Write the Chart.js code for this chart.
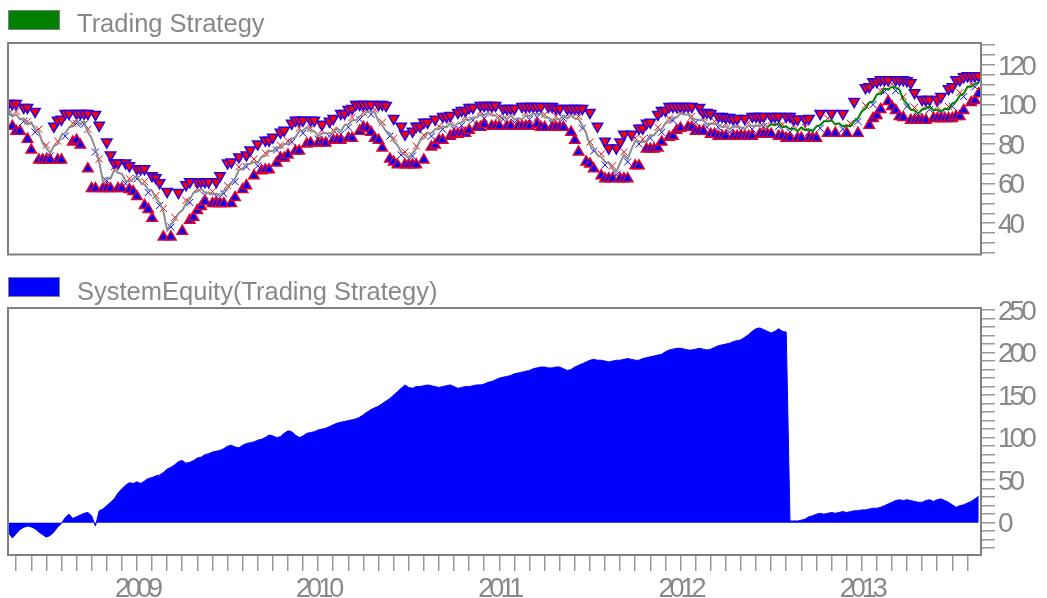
<!DOCTYPE html>
<html>
<head>
<meta charset="utf-8">
<script src="https://cdn.jsdelivr.net/npm/chart.js@4.4.0/dist/chart.umd.min.js"></script>
<style>
  html, body { margin: 0; padding: 0; background: #fff; }
  #wrap { position: relative; width: 1047px; height: 598px; overflow: hidden; }
  .box { position: absolute; left: 0; width: 1047px; }
</style>
</head>
<body>
<div id="wrap">
  <div class="box" style="top:0;height:262px"><canvas id="priceChart"></canvas></div>
  <div class="box" style="top:268px;height:330px"><canvas id="equityChart"></canvas></div>
</div>
<script>
// months counted from Jan 2008 (0 = Jan 2008), one point per week
const firstMonth = 3.5;
const weekStep = 0.25;
const axisFrom = 3.46;
const axisTo = 67.9;
const greenFromWeek = 201;

const price = [
  97, 94, 95, 92.5, 93, 90, 91, 87.5, 86, 80.5,
  78, 75.5, 79, 80, 84.5, 85.5, 88.5, 89, 92, 90,
  91.5, 86, 83, 77.5, 71, 61, 63, 62.5, 67, 65.5,
  65, 61.5, 61, 62.5, 64, 60.5, 59.5, 57, 56.5, 52.5,
  50.5, 46, 36.5, 39.5, 41.5, 45, 46.5, 50, 52, 55.5,
  56, 57.5, 55.5, 55.5, 54.5, 55, 53.5, 56.5, 57.5, 60.5,
  62.5, 67, 67.5, 70, 70, 71, 70.5, 73.5, 74, 76.5,
  76.5, 78.5, 78, 80, 80, 82.5, 83.5, 86.5, 87, 88.5,
  86.5, 86.5, 84, 85.5, 85.5, 85.5, 85.5, 88, 86.5, 89.5,
  90, 92, 92, 94, 94.5, 96.5, 96.5, 96, 91.5, 89.5,
  86.5, 85.5, 81.5, 79.5, 76, 74.5, 73, 75.5, 77.5, 82,
  83, 85.5, 85.5, 87.5, 87.5, 89, 88.5, 90.5, 89, 90.5,
  91, 92.5, 92, 93.5, 93.5, 95, 94.5, 96, 94.5, 94.5,
  92.5, 94, 92.5, 94.5, 92.5, 93, 92.5, 94.5, 94, 95.5,
  95, 95.5, 93.5, 93.5, 92, 92.5, 92.5, 94.5, 93, 94.5,
  93, 92.5, 89.5, 85.5, 79.5, 78, 74.5, 73.5, 71, 70.5,
  67.5, 66, 70.5, 74.5, 72.5, 77.5, 81.5, 81.5, 81, 81.5,
  84.5, 84.5, 87, 87.5, 90.5, 91.5, 93.5, 93.5, 95.5, 95,
  95, 92.5, 92.5, 92, 92, 90, 90.5, 90, 90, 88.5,
  89, 87.5, 89, 88.5, 88.5, 87.5, 89.5, 89, 89.5, 89,
  90.5, 88.5, 90, 89.5, 90.5, 88.5, 89, 87.5, 88, 86.5,
  88.5, 87, 87.5, 86.5, 89, 89.5, 91.5, 91.5, 92, 90,
  90.5, 89, 89.5, 89, 91.5, 93, 96.5, 98, 101, 101.5,
  105, 105.5, 108, 107.5, 109, 108.5, 107.5, 102.5, 100.5, 97.5,
  97, 95.5, 97.5, 98, 99, 97, 97.5, 96.5, 98, 97.5,
  100.5, 101.5, 104.5, 105.5, 109, 109, 110.5, 111
];

const equity = [
  -12, -18, -13, -8, -5.5, -4, -5, -7, -11, -14,
  -17, -15, -11, -5, -1, 6, 10, 5, 7, 9,
  11, 12, 8, -4, 14, 16, 20, 24, 28, 35,
  40, 44, 47, 46, 48, 46, 49, 52, 53, 55,
  56, 59, 63, 65, 68, 72, 73, 70, 71, 73,
  76, 77, 80, 81, 83, 84, 85, 87, 90, 91,
  89, 88, 91, 93, 94, 95, 97, 98, 100, 103,
  102, 100, 101, 105, 108, 107, 103, 100, 102, 105,
  106, 107, 109, 110, 111, 113, 115, 117, 118, 119,
  120, 121, 122, 124, 127, 130, 133, 135, 137, 140,
  143, 146, 150, 154, 158, 162, 159, 158, 160, 160,
  161, 162, 161, 160, 159, 160, 161, 162, 160, 158,
  159, 160, 160, 161, 162, 162, 163, 165, 166, 168,
  170, 171, 172, 173, 175, 176, 177, 178, 179, 181,
  182, 183, 183, 182, 182, 183, 183, 181, 179, 180,
  183, 185, 187, 189, 191, 192, 191, 191, 190, 189,
  190, 191, 191, 192, 193, 192, 191, 191, 193, 194,
  195, 196, 197, 198, 201, 203, 204, 205, 205, 204,
  203, 203, 204, 205, 204, 203, 204, 206, 208, 209,
  210, 211, 213, 214, 215, 218, 221, 225, 228, 229,
  227, 225, 223, 225, 228, 225, 224, 2, 2, 2,
  3, 4, 7, 8, 10, 11, 10, 11, 12, 11,
  12, 13, 12, 13, 14, 14, 15, 15, 16, 17,
  17, 18, 20, 22, 24, 26, 27, 26, 27, 26,
  25, 24, 24, 26, 27, 25, 27, 28, 26, 24,
  21, 18, 20, 21, 23, 25, 28, 31
];

// one flag per week: 1 = signal that week
const sellWeeks = [
  '1110110100', '0011111011', '1101101111', '0110111011', '1010010110',
  '1111011011', '0101101011', '1011011110', '1101011011', '1111111011',
  '1010110111', '1101011101', '1111011111', '0111101111', '1101111011',
  '1110101011', '0111010111', '1011111111', '1101111011', '1111010111',
  '1011101111', '0110010010', '0100100111', '1111011111', '1011101101',
  '11111111'
].join('');
const buyWeeks = [
  '0111011011', '1101100111', '0111011101', '1011101110', '0101001011',
  '1110111101', '1011010111', '0111101101', '1011101110', '1101111111',
  '0111011110', '1011110111', '1110111011', '1011011110', '1110111101',
  '1101110111', '1011101101', '1111011110', '1111101111', '1011111101',
  '1110111101', '1011100101', '0010010011', '1101111101', '1111011111',
  '11110111'
].join('');
const redExitWeeks = [
  '0010010010', '1001000100', '0100100010', '0010001001', '0100100100',
  '1000100010', '0100010010', '0010100100', '1001001000', '0100100101',
  '0010010010', '1000100100', '0100010010', '1001000100', '0010010001',
  '0100100100', '1001001010', '0010010010', '0100100100', '1001001001',
  '0010010010', '0100000100', '0001000100', '0100100100', '1001001001',
  '00100100'
].join('');
const blueExitWeeks = [
  '1000100100', '0100010010', '1001001000', '0100100100', '1001000010',
  '0010010100', '1001001000', '0100010010', '0010010010', '1001001000',
  '0100100100', '0010010010', '1001001000', '0100100010', '1000100100',
  '0010010010', '0100100100', '1001001000', '0010010010', '0100100100',
  '1000100100', '0010010000', '0100010001', '0010010010', '0100100100',
  '10010010'
].join('');

const weekX = i => firstMonth + i * weekStep;

function hasFont(name) {
  const c = document.createElement('canvas').getContext('2d');
  c.font = '40px monospace';
  const a = c.measureText('2009 120 abc').width;
  c.font = '40px "' + name + '", monospace';
  return c.measureText('2009 120 abc').width !== a;
}
const narrow = hasFont('Liberation Sans Narrow');
const tickFamily = narrow ? '"Liberation Sans Narrow"' : '"Liberation Sans"';
const tickSpacing = narrow ? '0px' : '-4px';
const textGray = '#888888';
const frameGray = '#808080';

// triangles sit just outside the recent high / low of the price line
function triangles(flags, side, gap) {
  const pts = [];
  for (let i = 0; i < price.length; i++) {
    if (flags[i] !== '1') continue;
    const win = price.slice(Math.max(0, i - 3), i + 4);
    const ref = side > 0 ? Math.max(...win) : Math.min(...win);
    pts.push({ x: weekX(i), y: ref + side * gap });
  }
  return pts;
}
function crosses(flags, shift) {
  const pts = [];
  for (let i = 0; i < price.length; i++) {
    if (flags[i] === '1') pts.push({ x: weekX(i), y: price[i] + shift });
  }
  return pts;
}

const framePlugin = {
  id: 'frame',
  beforeDraw(chart) { chart.ctx.letterSpacing = tickSpacing; },
  afterDatasetsDraw(chart) {
    const { ctx, chartArea: a } = chart;
    ctx.save();
    ctx.strokeStyle = frameGray;
    ctx.lineWidth = 2;
    ctx.strokeRect(a.left, a.top, a.right - a.left, a.bottom - a.top);
    ctx.restore();
  }
};

const boxLegend = {
  id: 'boxLegend',
  afterDraw(chart, args, opts) {
    const ctx = chart.ctx;
    ctx.save();
    ctx.letterSpacing = '0px';
    ctx.fillStyle = opts.color;
    ctx.fillRect(8, opts.top, 52, 20);
    ctx.strokeStyle = frameGray;
    ctx.lineWidth = 1;
    ctx.strokeRect(8.5, opts.top + 0.5, 51, 19);
    ctx.font = '25.5px "Liberation Sans", Arial, sans-serif';
    ctx.fillStyle = textGray;
    ctx.textBaseline = 'alphabetic';
    ctx.fillText(chart.data.datasets[0].label, 77, opts.baseline);
    ctx.restore();
  }
};

function noPad(s) {
  s.paddingTop = 0; s.paddingBottom = 0; s.paddingLeft = 0; s.paddingRight = 0;
}

function xAxis(show) {
  return {
    type: 'linear', min: axisFrom, max: axisTo, display: show,
    grid: { drawOnChartArea: false, tickLength: 16, color: '#999999', lineWidth: 1.5 },
    border: { display: false },
    ticks: {
      stepSize: 1, autoSkip: false, includeBounds: false, maxRotation: 0, padding: 2,
      color: textGray, font: { family: tickFamily, size: 27 },
      callback: v => (v % 12 === 0 ? String(2008 + v / 12) : '')
    },
    afterFit: s => { noPad(s); if (show) s.height = 43; }
  };
}

function yAxis(min, max, step, every) {
  return {
    position: 'right', min: min, max: max,
    grid: { drawOnChartArea: false, tickLength: 14, color: '#999999', lineWidth: 1.5 },
    border: { display: false },
    ticks: {
      stepSize: step, autoSkip: false, includeBounds: false, padding: 3, labelOffset: 2,
      color: textGray, font: { family: tickFamily, size: 28 },
      callback: v => (v % every === 0 ? String(v) : '')
    },
    afterFit: s => { noPad(s); s.width = 66; }
  };
}

const common = {
  responsive: true, maintainAspectRatio: false, animation: false, events: [],
  plugins: { legend: { display: false }, tooltip: { enabled: false } }
};

new Chart(document.getElementById('priceChart'), {
  type: 'line',
  data: {
    datasets: [
      {
        label: 'Trading Strategy',
        data: price.map((v, i) => ({ x: weekX(i), y: v })),
        borderColor: '#8c8c8c', borderWidth: 2, pointRadius: 0, order: 0,
        segment: { borderColor: c => (c.p0DataIndex >= greenFromWeek ? '#008000' : '#8c8c8c') }
      },
      {
        label: 'Sell', data: triangles(sellWeeks, 1, 3.5), showLine: false, order: 2,
        pointStyle: 'triangle', rotation: 180, pointRadius: 6,
        backgroundColor: '#ff0000', borderColor: '#2a00e0', borderWidth: 1.5
      },
      {
        label: 'Buy', data: triangles(buyWeeks, -1, 3.5), showLine: false, order: 1,
        pointStyle: 'triangle', pointRadius: 6,
        backgroundColor: '#0000ff', borderColor: '#e0002a', borderWidth: 1.5
      },
      {
        label: 'Exit short', data: crosses(redExitWeeks, 1.5), showLine: false, order: 3,
        pointStyle: 'crossRot', pointRadius: 5, borderColor: '#ff0000', borderWidth: 1
      },
      {
        label: 'Exit long', data: crosses(blueExitWeeks, -1.5), showLine: false, order: 3,
        pointStyle: 'crossRot', pointRadius: 5, borderColor: '#0000ff', borderWidth: 1
      }
    ]
  },
  options: Object.assign({}, common, {
    layout: { padding: { left: 8, top: 43, right: 0, bottom: 2 } },
    scales: { x: xAxis(false), y: yAxis(24.2, 131.1, 5, 20) },
    plugins: Object.assign({}, common.plugins, { boxLegend: { color: '#008000', top: 10, baseline: 31.5 } })
  }),
  plugins: [framePlugin, boxLegend]
});

new Chart(document.getElementById('equityChart'), {
  type: 'line',
  data: {
    datasets: [{
      label: 'SystemEquity(Trading Strategy)',
      data: equity.map((v, i) => ({ x: weekX(i), y: v })),
      borderColor: '#0000ff', backgroundColor: '#0000ff', borderWidth: 1,
      pointRadius: 0, fill: 'origin'
    }]
  },
  options: Object.assign({}, common, {
    layout: { padding: { left: 8, top: 40, right: 0, bottom: 0 } },
    scales: { x: xAxis(true), y: yAxis(-38, 252.4, 10, 50) },
    plugins: Object.assign({}, common.plugins, { boxLegend: { color: '#0000ff', top: 9, baseline: 31.5 } })
  }),
  plugins: [framePlugin, boxLegend]
});
</script>
</body>
</html>
